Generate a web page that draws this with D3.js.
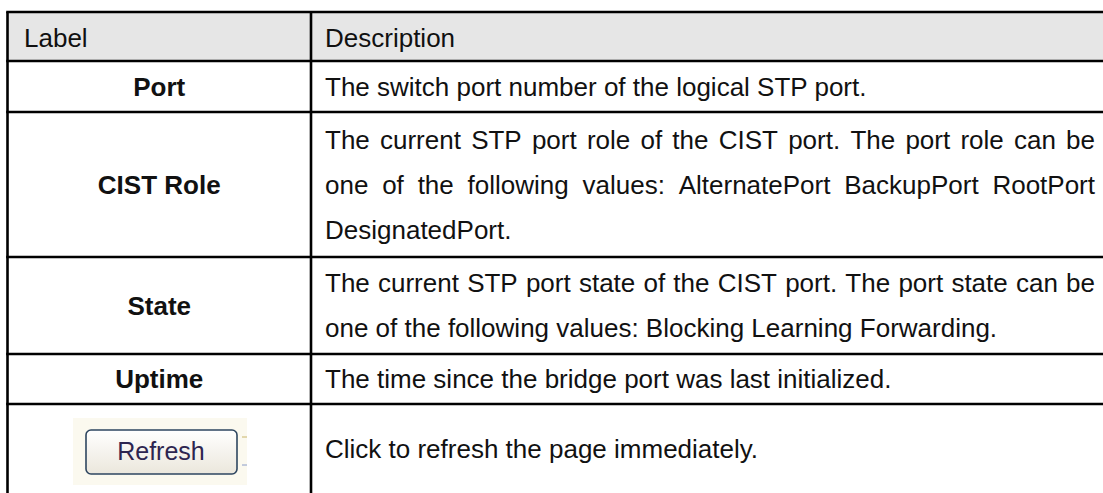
<!DOCTYPE html>
<html>
<head>
<meta charset="utf-8">
<script src="https://cdn.jsdelivr.net/npm/d3@7"></script>
<style>
  html, body { margin: 0; padding: 0; background: #fff; }
  svg { display: block; }
</style>
</head>
<body>
<svg id="chart" width="1103" height="493"></svg>
<script>
// ---- data ----
const headers = ["Label", "Description"];
const labels = ["Port", "CIST Role", "State", "Uptime", "Refresh"];
const descriptions = [
  ["The switch port number of the logical STP port."],
  ["The current STP port role of the CIST port. The port role can be",
   "one of the following values: AlternatePort BackupPort RootPort",
   "DesignatedPort."],
  ["The current STP port state of the CIST port. The port state can be",
   "one of the following values: Blocking Learning Forwarding."],
  ["The time since the bridge port was last initialized."],
  ["Click to refresh the page immediately."]
];
const buttonRows = ["Refresh"]; // labels drawn as a button image

// ---- layout ----
const W = 1103, H = 493;
const colEdges = [7.5, 311, 1108];
const rowEdges = [12, 61, 112, 257, 354, 404, 498];
const fontSize = 26, lineGap = 45;
const font = "'Liberation Sans', Arial, Helvetica, sans-serif";
const descLeft = 325, descRight = 1095;

const svg = d3.select("#chart");
const defs = svg.append("defs");
const grad = defs.append("linearGradient").attr("id", "btnGrad")
  .attr("x1", 0).attr("y1", 0).attr("x2", 0).attr("y2", 1);
grad.append("stop").attr("offset", "0%").attr("stop-color", "#ffffff");
grad.append("stop").attr("offset", "100%").attr("stop-color", "#ebe7dc");

// header background
svg.append("rect")
  .attr("x", colEdges[0]).attr("y", rowEdges[0])
  .attr("width", colEdges[2] - colEdges[0]).attr("height", rowEdges[1] - rowEdges[0])
  .attr("fill", "#e6e6e6");

// header text
svg.append("text").text(headers[0])
  .attr("x", 24).attr("y", rowEdges[0] + 34.5)
  .attr("font-family", font).attr("font-size", fontSize).attr("fill", "#111");
svg.append("text").text(headers[1])
  .attr("x", descLeft).attr("y", rowEdges[0] + 34.5)
  .attr("font-family", font).attr("font-size", fontSize).attr("fill", "#111");

const labelCx = (colEdges[0] + colEdges[1]) / 2;

labels.forEach((lab, i) => {
  const top = rowEdges[i + 1], bot = rowEdges[i + 2];
  const realBot = Math.min(bot, 493);
  const lines = descriptions[i];
  const mid = (top + (i === labels.length - 1 ? 493 : bot)) / 2;
  // label
  if (buttonRows.includes(lab)) {
    const g = svg.append("g");
    g.append("rect").attr("x", 73).attr("y", 418).attr("width", 174).attr("height", 67)
      .attr("fill", "#fbf9ef");
    g.append("rect").attr("x", 86).attr("y", 430).attr("width", 151).attr("height", 44)
      .attr("rx", 5).attr("fill", "url(#btnGrad)").attr("stroke", "#2e4660").attr("stroke-width", 1.6);
    g.append("text").text(lab).attr("x", 161).attr("y", 460)
      .attr("text-anchor", "middle")
      .attr("font-family", font).attr("font-size", 25).attr("fill", "#2d2550");
    g.append("line").attr("x1", 242).attr("x2", 247).attr("y1", 437).attr("y2", 437)
      .attr("stroke", "#c9b56a").attr("stroke-width", 1);
    g.append("line").attr("x1", 242).attr("x2", 247).attr("y1", 465).attr("y2", 465)
      .attr("stroke", "#8a9cc9").attr("stroke-width", 1);
  } else {
    svg.append("text").text(lab)
      .attr("x", labelCx).attr("y", mid + 9)
      .attr("text-anchor", "middle")
      .attr("font-family", font).attr("font-size", fontSize).attr("font-weight", "bold")
      .attr("fill", "#111");
  }
  // description lines
  const n = lines.length;
  const firstCenter = mid - (n - 1) * lineGap / 2;
  lines.forEach((ln, j) => {
    const y = firstCenter + j * lineGap + 9;
    const isLast = j === n - 1;
    if (isLast) {
      svg.append("text").text(ln).attr("x", descLeft).attr("y", y)
        .attr("font-family", font).attr("font-size", fontSize).attr("fill", "#111");
    } else {
      const words = ln.split(" ");
      const g = svg.append("g");
      const nodes = words.map(w => g.append("text").text(w).attr("y", y)
        .attr("font-family", font).attr("font-size", fontSize).attr("fill", "#111"));
      const widths = nodes.map(t => t.node().getComputedTextLength());
      const total = d3.sum(widths);
      const gap = (descRight - descLeft - total) / (words.length - 1);
      let x = descLeft;
      nodes.forEach((t, k) => { t.attr("x", x); x += widths[k] + gap; });
    }
  });
});

// grid lines
const stroke = "#000", sw = 2.6;
rowEdges.forEach(y => {
  svg.append("line").attr("x1", colEdges[0] - sw / 2).attr("x2", colEdges[2])
    .attr("y1", y).attr("y2", y).attr("stroke", stroke).attr("stroke-width", sw);
});
colEdges.forEach(x => {
  svg.append("line").attr("x1", x).attr("x2", x)
    .attr("y1", rowEdges[0]).attr("y2", rowEdges[rowEdges.length - 1])
    .attr("stroke", stroke).attr("stroke-width", sw);
});
</script>
</body>
</html>
